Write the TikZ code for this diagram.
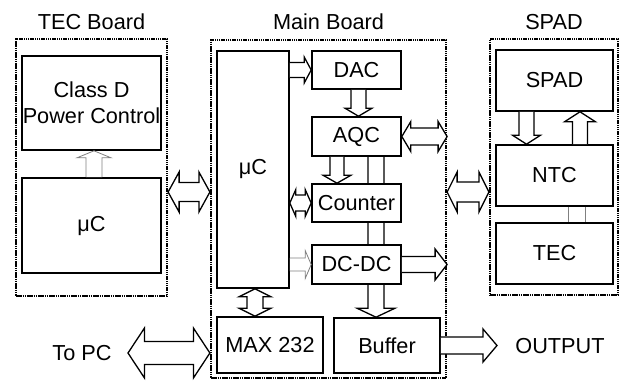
\documentclass[tikz,border=0pt]{standalone}
\usepackage{fontspec}
\setmainfont{Liberation Sans}
\usetikzlibrary{calc,backgrounds}
\newcommand\lblfont{\fontsize{21.7}{26}\selectfont}
% right arrow: style, tail, tip, shaft half, head half, head length
\newcommand\arrR[6]{\draw[#1] let \p1=#2, \p2=#3 in (\x1,\y2+#4pt) -- (\x2-#6pt,\y2+#4pt) -- (\x2-#6pt,\y2+#5pt) -- (\x2,\y2) -- (\x2-#6pt,\y2-#5pt) -- (\x2-#6pt,\y2-#4pt) -- (\x1,\y2-#4pt);}
% left-right double arrow: style, left tip, right tip, ...
\newcommand\arrLR[6]{\draw[#1] let \p1=#2, \p2=#3 in (\x1,\y1) -- (\x1+#6pt,\y1+#5pt) -- (\x1+#6pt,\y1+#4pt) -- (\x2-#6pt,\y1+#4pt) -- (\x2-#6pt,\y1+#5pt) -- (\x2,\y1) -- (\x2-#6pt,\y1-#5pt) -- (\x2-#6pt,\y1-#4pt) -- (\x1+#6pt,\y1-#4pt) -- (\x1+#6pt,\y1-#5pt) -- cycle;}
% down arrow: style, tail (top), tip (bottom)
\newcommand\arrD[6]{\draw[#1] let \p1=#2, \p2=#3 in (\x1-#4pt,\y1) -- (\x1-#4pt,\y2+#6pt) -- (\x1-#5pt,\y2+#6pt) -- (\x1,\y2) -- (\x1+#5pt,\y2+#6pt) -- (\x1+#4pt,\y2+#6pt) -- (\x1+#4pt,\y1);}
% up arrow: style, tail (bottom), tip (top)
\newcommand\arrU[6]{\draw[#1] let \p1=#2, \p2=#3 in (\x1-#4pt,\y1) -- (\x1-#4pt,\y2-#6pt) -- (\x1-#5pt,\y2-#6pt) -- (\x1,\y2) -- (\x1+#5pt,\y2-#6pt) -- (\x1+#4pt,\y2-#6pt) -- (\x1+#4pt,\y1);}
% up-down double arrow: style, top tip, bottom tip
\newcommand\arrUD[6]{\draw[#1] let \p1=#2, \p2=#3 in (\x1,\y1) -- (\x1+#5pt,\y1-#6pt) -- (\x1+#4pt,\y1-#6pt) -- (\x1+#4pt,\y2+#6pt) -- (\x1+#5pt,\y2+#6pt) -- (\x1,\y2) -- (\x1-#5pt,\y2+#6pt) -- (\x1-#4pt,\y2+#6pt) -- (\x1-#4pt,\y1-#6pt) -- (\x1-#5pt,\y1-#6pt) -- cycle;}
\tikzset{
 box/.style={draw, line width=1.6pt, fill=white, inner sep=0pt, align=center, font=\lblfont},
 frame/.style={draw, line width=2.2pt, dash pattern=on 1.5pt off 0.7pt, inner sep=0pt},
 barrow/.style={draw, line width=1.3pt, fill=white, line join=miter},
 garrow/.style={draw=black!50, line width=0.8pt, fill=white},
 gline/.style={draw=black!50, line width=0.9pt},
 lbl/.style={font=\lblfont, inner sep=0pt}
}
\begin{document}
\begin{tikzpicture}[x=1pt,y=-1pt]
\useasboundingbox (0,0) rectangle (623,381);
% frames
\node[frame, minimum width=151pt, minimum height=257pt] (tecf) at (91.5,167.5) {};
\node[frame, minimum width=235pt, minimum height=338pt] (mainf) at (328.5,209) {};
\node[frame, minimum width=128pt, minimum height=256pt] (spadf) at (554,167) {};
% titles
\node[lbl] (t1) at (91.5,22) {TEC Board};
\node[lbl] (t2) at (328.5,22) {Main Board};
\node[lbl] (t3) at (554,22) {SPAD};
% TEC board
\node[box, minimum width=139pt, minimum height=94pt] (classd) at (91.5,103) {Class D\\Power Control};
\node[box, minimum width=139pt, minimum height=95pt] (tmuc) at (91.5,225.5) {μC};
% Main board
\node[box, minimum width=72pt, minimum height=237pt] (muc) at (253,169.5) {μC};
\node[box, minimum width=89pt, minimum height=38pt] (dac) at (356.5,70) {DAC};
\node[box, minimum width=89pt, minimum height=39pt] (aqc) at (356.5,136.5) {AQC};
\node[box, minimum width=89pt, minimum height=38pt] (counter) at (356.5,203) {Counter};
\node[box, minimum width=89pt, minimum height=39pt] (dcdc) at (356.5,264.5) {DC-DC};
\node[box, minimum width=106pt, minimum height=56pt] (max) at (270,345) {MAX 232};
\node[box, minimum width=106pt, minimum height=55pt] (buffer) at (387,345.5) {Buffer};
% SPAD
\node[box, minimum width=117pt, minimum height=61pt] (spad) at (554.5,80.5) {SPAD};
\node[box, minimum width=117pt, minimum height=61pt] (ntc) at (554.5,175.5) {NTC};
\node[box, minimum width=117pt, minimum height=61pt] (tec) at (554.5,253.5) {TEC};
% labels
\node[lbl] (topc) at (82,353) {To PC};
\node[lbl] (output) at (560,346) {OUTPUT};
\coordinate (pc) at (128,353);
\coordinate (out) at (497,345.5);
% pass-through arrow AQC -> Buffer (behind boxes)
\begin{pgfonlayer}{background}
\arrD{barrow}{([xshift=19.5pt]aqc.south)}{(buffer.north)}{8}{19}{9}
\end{pgfonlayer}
% arrows
\arrU{garrow}{([xshift=2.5pt]tmuc.north)}{(classd.south)}{8}{17}{7}
\arrLR{barrow}{([yshift=-24.5pt]tecf.east)}{(mainf.west)}{9.5}{20}{11}
\arrR{barrow}{(muc.east |- dac.west)}{(dac.west)}{7.5}{13}{7}
\arrD{barrow}{([xshift=2pt]dac.south)}{(aqc.north)}{7.5}{13.5}{8}
\arrLR{barrow}{(aqc.east)}{(mainf.east)}{8.5}{15}{9}
\arrD{barrow}{([xshift=-19.5pt]aqc.south)}{(counter.north)}{7}{14}{8}
\arrLR{barrow}{(muc.east |- counter.west)}{(counter.west)}{8}{13.5}{6}
\arrR{garrow}{(muc.east |- dcdc.west)}{(dcdc.west)}{6.5}{14}{6}
\arrR{barrow}{(dcdc.east)}{(mainf.east |- dcdc.east)}{8}{15.5}{12}
\arrUD{barrow}{([xshift=2pt]muc.south)}{(max.north)}{8}{16}{8}
\arrLR{barrow}{(pc)}{(mainf.west)}{11.5}{25}{16.5}
\arrR{barrow}{(buffer.east)}{(out)}{8.5}{16.5}{14}
\arrLR{barrow}{([yshift=17pt]mainf.east)}{(spadf.west)}{10}{20}{10}
\arrD{barrow}{([xshift=-28pt]spad.south)}{(ntc.north)}{7.5}{14}{9}
\arrU{barrow}{([xshift=25.5pt]ntc.north)}{(spad.south)}{7.5}{15.5}{10}
\draw[gline] ([xshift=13.5pt]ntc.south) -- ([xshift=13.5pt]tec.north);
\draw[gline] ([xshift=30.5pt]ntc.south) -- ([xshift=30.5pt]tec.north);
\end{tikzpicture}
\end{document}
